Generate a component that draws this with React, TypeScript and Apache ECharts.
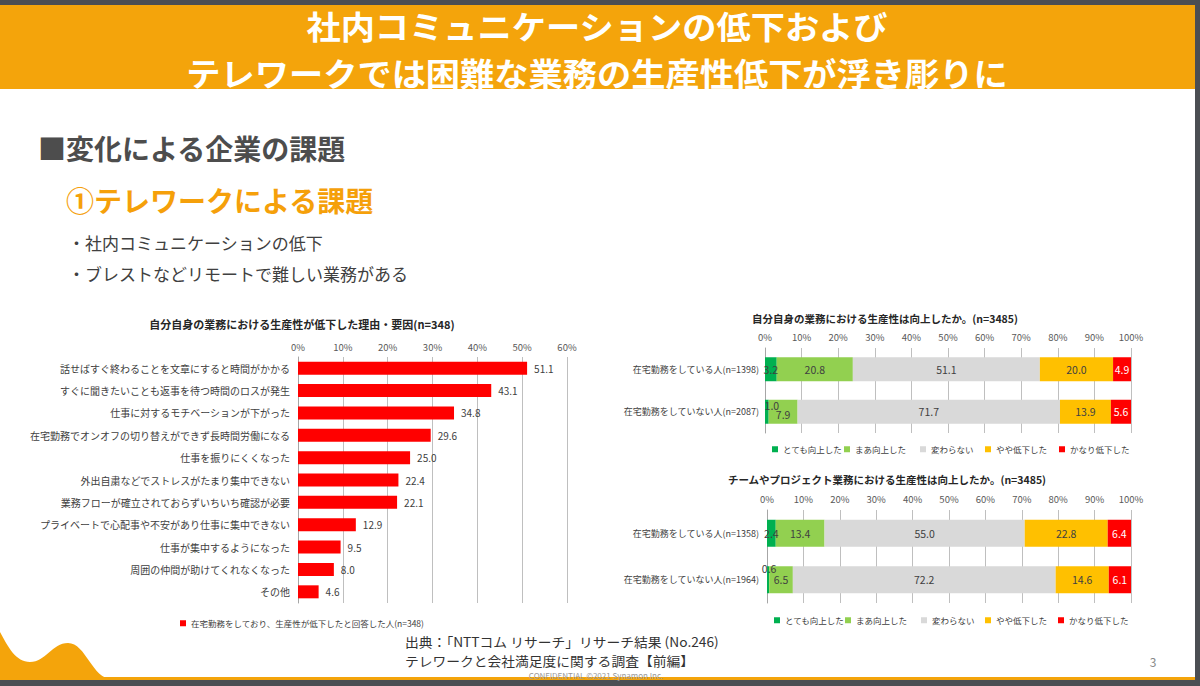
import React, { useEffect, useRef } from "react";
import * as echarts from "echarts";

const FONT = '"Noto Sans CJK JP", "Noto Sans", sans-serif';

// ---- data ----
const reasonCategories = [
  "話せばすぐ終わることを文章にすると時間がかかる",
  "すぐに聞きたいことも返事を待つ時間のロスが発生",
  "仕事に対するモチベーションが下がった",
  "在宅勤務でオンオフの切り替えができず長時間労働になる",
  "仕事を振りにくくなった",
  "外出自粛などでストレスがたまり集中できない",
  "業務フローが確立されておらずいちいち確認が必要",
  "プライベートで心配事や不安があり仕事に集中できない",
  "仕事が集中するようになった",
  "周囲の仲間が助けてくれなくなった",
  "その他",
];
const reasonValues = [51.1, 43.1, 34.8, 29.6, 25.0, 22.4, 22.1, 12.9, 9.5, 8.0, 4.6];
const reasonSeriesName = "在宅勤務をしており、生産性が低下したと回答した人(n=348)";

const answerNames = ["とても向上した", "まあ向上した", "変わらない", "やや低下した", "かなり低下した"];
const answerColors = ["#00B050", "#92D050", "#D9D9D9", "#FFC000", "#FF0000"];

const selfCategories = ["在宅勤務をしている人(n=1398)", "在宅勤務をしていない人(n=2087)"];
const selfValues = [
  [3.2, 1.0],
  [20.8, 7.9],
  [51.1, 71.7],
  [20.0, 13.9],
  [4.9, 5.6],
];
const teamCategories = ["在宅勤務をしている人(n=1358)", "在宅勤務をしていない人(n=1964)"];
const teamValues = [
  [2.4, 0.6],
  [13.4, 6.5],
  [55.0, 72.2],
  [22.8, 14.6],
  [6.4, 6.1],
];

const headerLines = ["社内コミュニケーションの低下および", "テレワークでは困難な業務の生産性低下が浮き彫りに"];
const footerLines = ["出典：「NTTコム リサーチ」リサーチ結果 (No.246)", "テレワークと会社満足度に関する調査【前編】"];

const wavePath =
  "M0,632 C8,647 16,662 30,662 C46,662 52,643 68,643 C86,643 92,679 112,679 L0,679 Z";
echarts.graphic.registerShape("wave", echarts.graphic.extendPath(wavePath, {}) as any);

const ORANGE = "#F4A40B";
const DARK = "#4b4e53";

function txt(text: string, x: number, y: number, size: number, color: string, opts: any = {}) {
  const align = opts.align || "left";
  return {
    type: "text",
    x,
    y,
    scaleX: opts.scaleX || 1,
    style: {
      text,
      fill: color,
      fontSize: size,
      lineHeight: opts.lineHeight || Math.ceil(size) + 1,
      fontWeight: opts.bold ? "bold" : "normal",
      fontFamily: FONT,
      align,
      textAlign: align,
      verticalAlign: "middle",
      textVerticalAlign: "middle",
    },
  };
}

function pctAxis(gridIndex: number, max: number, margin: number) {
  return {
    gridIndex,
    type: "value",
    min: 0,
    max,
    interval: 10,
    position: "top",
    axisLine: { show: false },
    axisTick: { show: false },
    axisLabel: { formatter: "{value}%", color: "#595959", fontSize: 9.5, fontFamily: FONT, margin },
    splitLine: { lineStyle: { color: "#bfbfbf", width: 1 } },
  };
}

function catAxis(gridIndex: number, data: string[], size: number, margin: number) {
  return {
    gridIndex,
    type: "category",
    data,
    inverse: true,
    axisLine: { lineStyle: { color: "#a6a6a6" } },
    axisTick: { show: false },
    axisLabel: { color: "#404040", fontSize: size, fontFamily: FONT, margin },
  };
}

const selfOffsets: Record<string, number[]> = { "0-1": [5, -6], "1-1": [0, 3] };
const teamOffsets: Record<string, number[]> = { "0-1": [1, -11] };

function stackSeries(values: number[][], axis: number, stack: string, barWidth: number, offsets: Record<string, number[]>) {
  return values.map((row, i) => ({
    type: "bar",
    name: answerNames[i],
    stack,
    xAxisIndex: axis,
    yAxisIndex: axis,
    barWidth,
    itemStyle: { color: answerColors[i] },
    label: {
      show: true,
      position: "inside",
      color: i === 4 ? "#ffffff" : "#404040",
      fontSize: 10.5,
      fontFamily: FONT,
      formatter: (p: any) => Number(p.value).toFixed(1),
    },
    data: row.map((v, j) => {
      const off = offsets[`${i}-${j}`];
      return off ? { value: v, label: { offset: off } } : v;
    }),
  }));
}

function itemLegend(name: string, left: number, top: number) {
  return {
    data: [name],
    left,
    top,
    padding: 0,
    icon: "rect",
    itemWidth: 6,
    itemHeight: 6,
    selectedMode: false,
    textStyle: { color: "#404040", fontSize: 8.5, fontFamily: FONT },
  };
}

const legend1Lefts = [772, 844, 920, 985, 1059];
const legend2Lefts = [774, 845, 921, 985, 1058];

const option: any = {
  animation: false,
  backgroundColor: "#ffffff",
  textStyle: { fontFamily: FONT },
  grid: [
    { left: 298, top: 357, width: 269, height: 246 },
    { left: 765, top: 348, width: 366, height: 85 },
    { left: 767, top: 510, width: 364, height: 93 },
  ],
  xAxis: [pctAxis(0, 60, 5), pctAxis(1, 100, 6), pctAxis(2, 100, 6)],
  yAxis: [
    catAxis(0, reasonCategories, 10, 8),
    catAxis(1, selfCategories, 9, 6),
    catAxis(2, teamCategories, 9, 8),
  ],
  legend: [
    itemLegend(reasonSeriesName, 180, 619),
    ...answerNames.map((n, i) => itemLegend(n, legend1Lefts[i], 445)),
    ...answerNames.map((n, i) => itemLegend(n, legend2Lefts[i], 616)),
  ],
  series: [
    {
      type: "bar",
      name: reasonSeriesName,
      xAxisIndex: 0,
      yAxisIndex: 0,
      barWidth: 13,
      itemStyle: { color: "#FF0000" },
      label: {
        show: true,
        position: "right",
        distance: 7,
        color: "#404040",
        fontSize: 10,
        fontFamily: FONT,
        formatter: (p: any) => Number(p.value).toFixed(1),
      },
      data: reasonValues,
    },
    ...stackSeries(selfValues, 1, "self", 24, selfOffsets),
    ...stackSeries(teamValues, 2, "team", 27, teamOffsets),
  ],
  graphic: [
    { type: "rect", shape: { x: 0, y: 0, width: 1200, height: 5 }, style: { fill: DARK } },
    { type: "rect", shape: { x: 0, y: 5, width: 1195, height: 84 }, style: { fill: ORANGE } },
    { type: "rect", shape: { x: 1195, y: 0, width: 5, height: 686 }, style: { fill: DARK } },
    { type: "rect", shape: { x: 0, y: 677, width: 1195, height: 3 }, style: { fill: ORANGE } },
    { type: "rect", shape: { x: 0, y: 680, width: 1200, height: 6 }, style: { fill: DARK } },
    { type: "wave", x: 0, y: 0, style: { fill: ORANGE } },
    txt(headerLines[0], 597, 25.5, 32, "#ffffff", { bold: true, align: "center", lineHeight: 32, scaleX: 1.07 }),
    txt(headerLines[1], 597, 72, 32, "#ffffff", { bold: true, align: "center", lineHeight: 32, scaleX: 1.07 }),
    txt("■変化による企業の課題", 38, 148, 28, "#4d4d4d", { bold: true }),
    txt("①テレワークによる課題", 66, 200, 28, "#F5A00A", { bold: true }),
    txt("・社内コミュニケーションの低下", 68, 242, 17, "#404040"),
    txt("・ブレストなどリモートで難しい業務がある", 68, 273, 17, "#404040"),
    txt("自分自身の業務における生産性が低下した理由・要因(n=348)", 302, 324, 11, "#262626", { bold: true, align: "center" }),
    txt("自分自身の業務における生産性は向上したか。(n=3485)", 885, 318, 10.5, "#262626", { bold: true, align: "center" }),
    txt("チームやプロジェクト業務における生産性は向上したか。(n=3485)", 887, 479, 10.5, "#262626", { bold: true, align: "center" }),
    txt(footerLines[0], 405, 641, 13, "#333333", { lineHeight: 13, scaleX: 1.06 }),
    txt(footerLines[1], 405, 660, 13, "#333333", { lineHeight: 13, scaleX: 1.06 }),
    txt("CONFIDENTIAL ©2021 Synamon Inc.", 596, 675.5, 8, "#999999", { align: "center", lineHeight: 8 }),
    txt("3", 1153, 661, 12, "#888888", { align: "center" }),
  ],
};

export default function App() {
  const ref = useRef<HTMLDivElement>(null);
  useEffect(() => {
    document.body.style.margin = "0";
    const chart = echarts.init(ref.current!, null, { renderer: "svg" });
    chart.setOption(option);
    return () => chart.dispose();
  }, []);
  return <div ref={ref} style={{ width: 1200, height: 686 }} />;
}
